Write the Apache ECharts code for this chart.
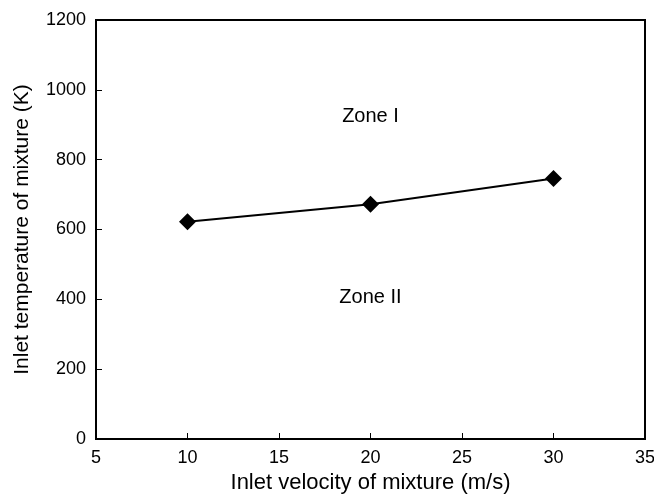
<!DOCTYPE html>
<html><head><meta charset="utf-8">
<script src="https://cdn.jsdelivr.net/npm/echarts@6/dist/echarts.min.js"></script>
<style>html,body{margin:0;padding:0;background:#fff}#c{width:654px;height:494px}</style>
</head><body><div id="c"></div>
<script>
const velocity = [10, 20, 30];
const temperature = [622, 672, 746];
const zoneLabels = ['Zone I', 'Zone II'];
const zoneX = [20, 20];
const zoneY = [923, 406];
const xTitle = 'Inlet velocity of mixture (m/s)';
const yTitle = 'Inlet temperature of mixture (K)';

const chart = echarts.init(document.getElementById('c'), null, {renderer: 'canvas'});
const font = 'Arial, "Liberation Sans", sans-serif';
chart.setOption({
  animation: false,
  grid: {left: 96, top: 20, right: 9, bottom: 55, show: true, borderColor: '#000', borderWidth: 2,
         outerBoundsMode: 'none', containLabel: false},
  xAxis: {
    type: 'value', min: 5, max: 35, interval: 5,
    name: xTitle, nameLocation: 'middle', nameGap: 33,
    nameTextStyle: {fontFamily: font, fontSize: 22, color: '#000'},
    axisLine: {show: true, onZero: false, lineStyle: {color: '#000', width: 2}},
    axisTick: {show: true, inside: true, length: 6, lineStyle: {color: '#000', width: 1}},
    axisLabel: {fontFamily: font, fontSize: 18, color: '#000', margin: 10},
    splitLine: {show: false}
  },
  yAxis: {
    type: 'value', min: 0, max: 1200, interval: 200,
    name: yTitle, nameLocation: 'middle', nameGap: 63, nameRotate: 90,
    nameTextStyle: {fontFamily: font, fontSize: 21, color: '#000'},
    axisLine: {show: true, lineStyle: {color: '#000', width: 2}},
    axisTick: {show: true, inside: true, length: 6, lineStyle: {color: '#000', width: 1}},
    axisLabel: {fontFamily: font, fontSize: 18, color: '#000', margin: 10, formatter: v => String(v)},
    splitLine: {show: false}
  },
  series: [
    {
      type: 'line',
      data: velocity.map((v, i) => [v, temperature[i]]),
      symbol: 'diamond', symbolSize: 17,
      lineStyle: {color: '#000', width: 2},
      itemStyle: {color: '#000'}
    },
    {
      type: 'scatter',
      data: zoneLabels.map((t, i) => ({value: [zoneX[i], zoneY[i]], name: t})),
      symbolSize: 0,
      itemStyle: {opacity: 1},
      label: {show: true, position: 'inside', formatter: p => p.name, opacity: 1,
        fontFamily: font, fontSize: 20, color: '#000', textBorderWidth: 0}
    }
  ]
});
</script></body></html>
